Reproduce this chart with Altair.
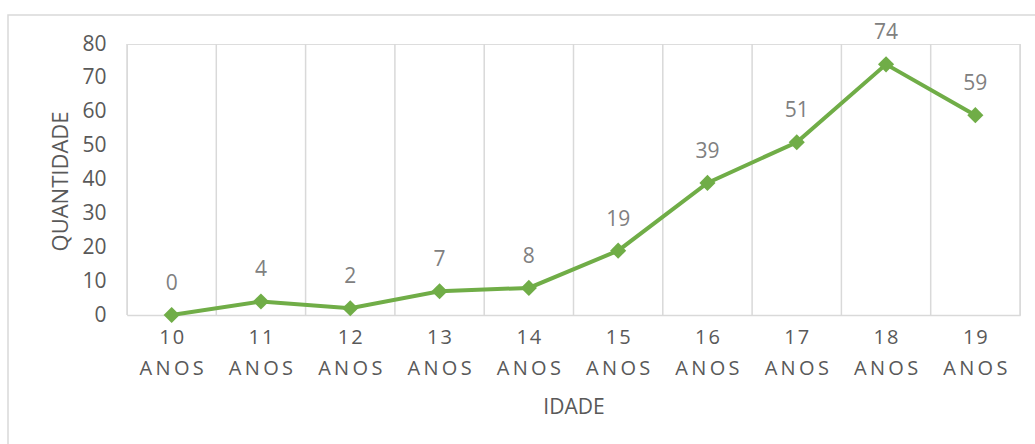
import altair as alt
import pandas as pd

idades = ["10", "11", "12", "13", "14", "15", "16", "17", "18", "19"]
valores = [0, 4, 2, 7, 8, 19, 39, 51, 74, 59]
y_ticks = [0, 10, 20, 30, 40, 50, 60, 70, 80]

categorias = [f"{i} ANOS" for i in idades]
df = pd.DataFrame({"idade": categorias, "valor": valores})
df_last = df.tail(1)

W, H = 893, 271
FONT = "Open Sans"
GREEN = "#70AD47"
GRID = "#D9D9D9"
LABEL = "#595959"

xscale = alt.Scale(type="band", domain=categorias, paddingInner=0, paddingOuter=0)
yscale = alt.Scale(domain=[0, 80])

x_axis = alt.Axis(
    title="IDADE", labelAngle=0, ticks=False, grid=False,
    domain=True, domainColor=GRID, domainWidth=1.5,
    labelExpr="[join(split(split(datum.label, ' ')[0], ''), '\u200a'), 'A\u2009N\u2009O\u2009S']",
    labelFont=FONT, labelFontSize=20, labelColor=LABEL,
    labelPadding=12, labelLineHeight=31, labelBaseline="top",
    labelOverlap=False,
    titleFont=FONT, titleFontSize=21, titleFontWeight="normal",
    titleColor=LABEL, titleY=92, titleBaseline="middle",
)
y_axis = alt.Axis(
    title="QUANTIDADE", values=y_ticks, ticks=False, grid=False,
    domain=False, labelFont=FONT, labelFontSize=21, labelColor=LABEL,
    labelPadding=21, labelOverlap=False,
    titleFont=FONT, titleFontSize=22, titleFontWeight=500,
    titleColor=LABEL, titleX=-67, titleY=137, titleAngle=-90,
    titleAlign="center", titleBaseline="middle",
)

x_enc = alt.X("idade:N", scale=xscale, axis=x_axis)
y_enc = alt.Y("valor:Q", scale=yscale, axis=y_axis)

base = alt.Chart(df)

border = alt.Chart(pd.DataFrame({"a": [0]})).mark_rect(
    fillOpacity=0, stroke=GRID, strokeWidth=1.5
).encode(
    x=alt.value(-119), x2=alt.value(W + 40),
    y=alt.value(-29), y2=alt.value(H + 200),
)

grid = base.mark_rule(color=GRID, strokeWidth=1.5).encode(
    x=alt.X("idade:N", scale=xscale, bandPosition=0, axis=x_axis),
    y=alt.value(0), y2=alt.value(H),
)
grid_last = alt.Chart(df_last).mark_rule(color=GRID, strokeWidth=1.5).encode(
    x=alt.X("idade:N", scale=xscale, bandPosition=1, axis=x_axis),
    y=alt.value(0), y2=alt.value(H),
)

line = base.mark_line(color=GREEN, strokeWidth=4).encode(x=x_enc, y=y_enc)
points = base.mark_point(
    shape="diamond", filled=True, size=260, color=GREEN, opacity=1
).encode(x=x_enc, y=y_enc)
labels = base.mark_text(
    dy=-31, font=FONT, fontSize=21, color="#808080", baseline="middle"
).encode(x=x_enc, y=y_enc, text="valor:Q")

chart = alt.layer(border, grid, grid_last, line, points, labels).properties(
    width=W, height=H,
    autosize=alt.AutoSizeParams(type="none"),
    padding={"left": 127, "top": 44, "right": 15, "bottom": 129},
).configure_view(stroke=None).configure(background="white").configure_axisY(
    labelOverlap=False
)

chart.save("out.html", embed_options={"renderer": "svg", "actions": False})
